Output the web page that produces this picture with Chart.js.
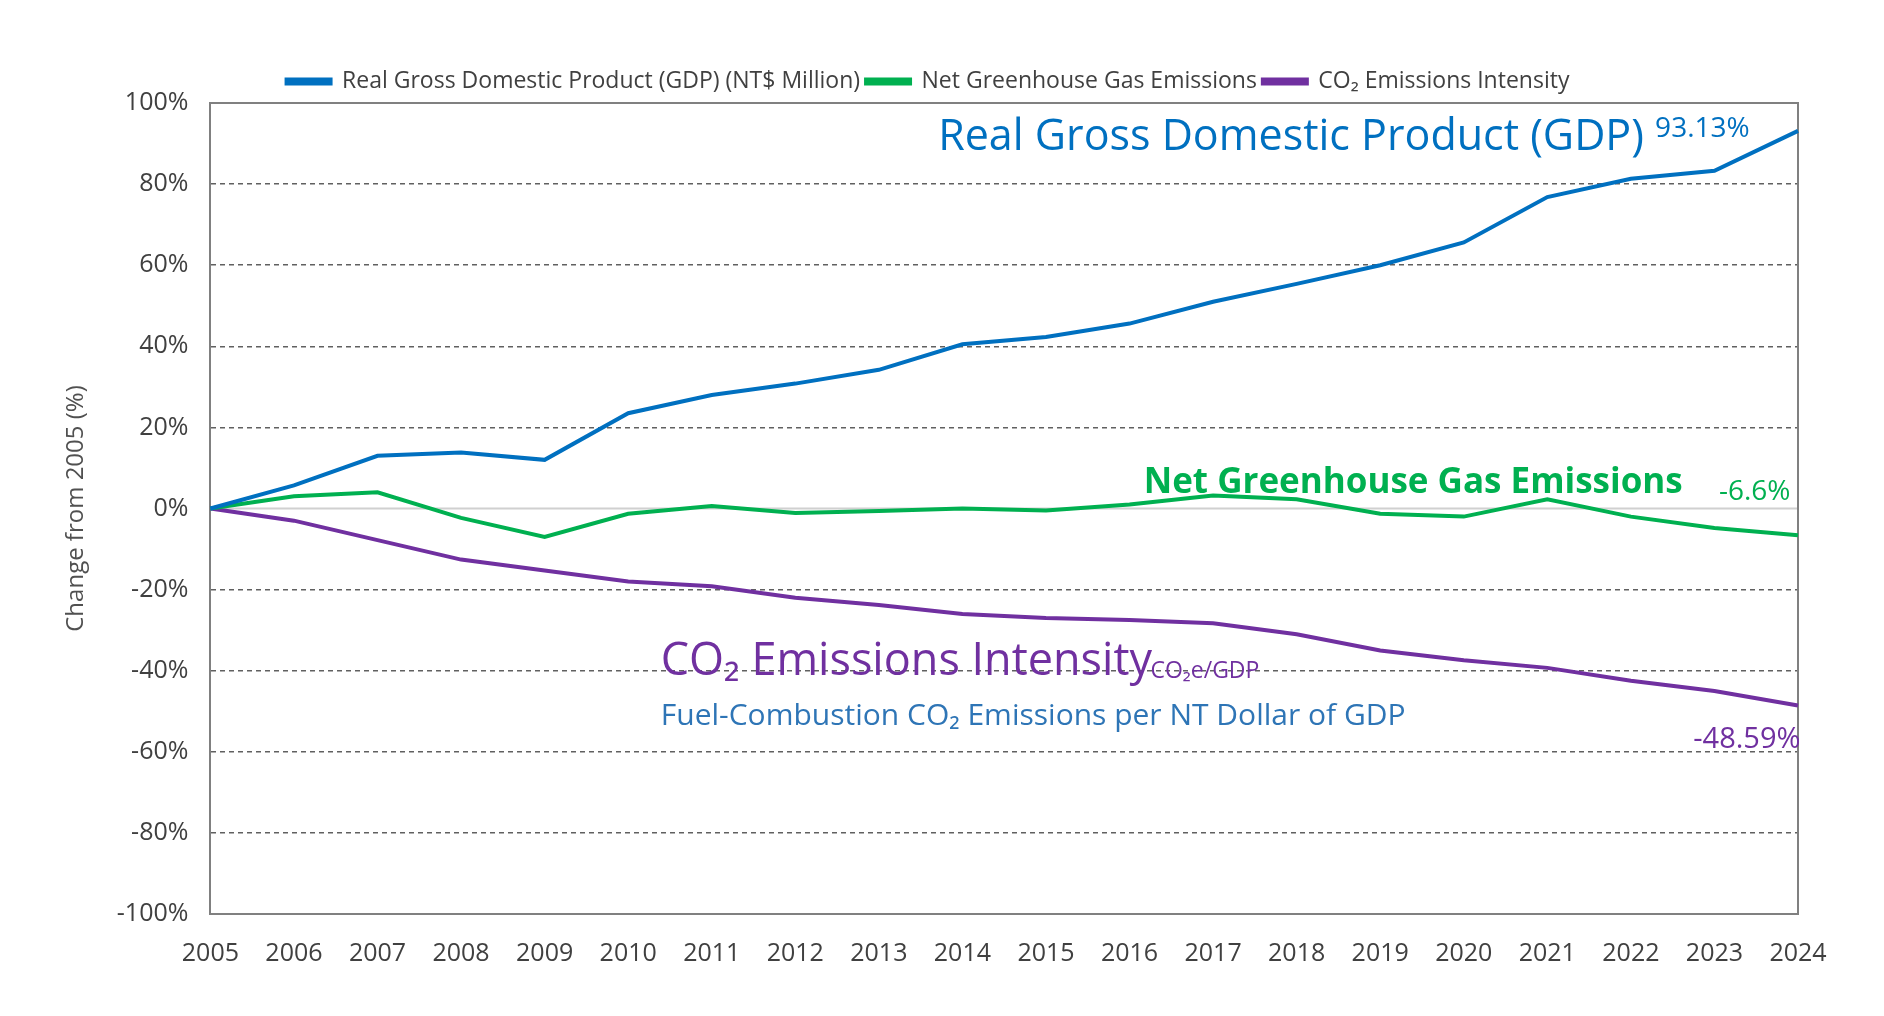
<!DOCTYPE html>
<html>
<head>
<meta charset="utf-8">
<script src="https://cdn.jsdelivr.net/npm/chart.js@4"></script>
<style>
  html, body { margin: 0; padding: 0; background: #fff; }
  #wrap { width: 1884px; height: 1016px; }
</style>
</head>
<body>
<div id="wrap"><canvas id="c" width="1884" height="1016"></canvas></div>
<script>
// DATA
var years = ['2005','2006','2007','2008','2009','2010','2011','2012','2013','2014','2015','2016','2017','2018','2019','2020','2021','2022','2023','2024'];
var gdp = [0, 5.7, 13, 13.8, 12, 23.5, 28, 30.8, 34.2, 40.5, 42.3, 45.6, 51, 55.4, 60, 65.6, 76.8, 81.3, 83.3, 93.13];
var ghg = [0, 3, 4, -2.3, -7, -1.3, 0.6, -1.1, -0.6, 0, -0.5, 1, 3.2, 2.3, -1.3, -2, 2.3, -2, -4.8, -6.6];
var co2 = [0, -3, -7.8, -12.6, -15.3, -18, -19.2, -22, -23.8, -26, -27, -27.5, -28.3, -31, -35, -37.4, -39.3, -42.5, -45, -48.59];

var BLUE = '#0070c0', GREEN = '#00b050', PURPLE = '#7030a0';
var FONT = '"Open Sans", "Noto Sans", sans-serif';

// annotation texts, placed in data units (category index, percent)
var notes = [
  { text: 'Real Gross Domestic Product (GDP)', x: 8.71, y: 91.5, size: 43, color: BLUE, align: 'left' },
  { text: '93.13%', x: 17.29, y: 93.6, size: 28, color: BLUE, align: 'left' },
  { text: 'Net Greenhouse Gas Emissions', x: 11.17, y: 6.4, size: 35, color: GREEN, align: 'left', bold: true },
  { text: '-6.6%', x: 18.91, y: 4.1, size: 28, color: GREEN, align: 'right' },
  { text: 'CO\u2082 Emissions Intensity', x: 5.39, y: -38.0, size: 45, color: PURPLE, align: 'left' },
  { text: 'CO\u2082e/GDP', x: 11.25, y: -40.3, size: 23, color: PURPLE, align: 'left' },
  { text: 'Fuel-Combustion CO\u2082 Emissions per NT Dollar of GDP', x: 5.39, y: -51.2, size: 30, color: '#2e75b6', align: 'left' },
  { text: '-48.59%', x: 19.03, y: -57.0, size: 29, color: PURPLE, align: 'right' }
];

var notePlugin = {
  id: 'notes',
  afterDatasetsDraw: function (chart) {
    var ctx = chart.ctx, xs = chart.scales.x, ys = chart.scales.y;
    ctx.save();
    notes.forEach(function (n) {
      ctx.font = (n.bold ? 'bold ' : '') + n.size + 'px ' + FONT;
      ctx.fillStyle = n.color;
      ctx.textAlign = n.align;
      ctx.textBaseline = 'middle';
      ctx.fillText(n.text, xs.getPixelForValue(n.x), ys.getPixelForValue(n.y));
    });
    ctx.restore();
  }
};

// solid zero line and plot frame
var gridPlugin = {
  id: 'zeroline',
  beforeDatasetsDraw: function (chart) {
    var ctx = chart.ctx, a = chart.chartArea, y0 = chart.scales.y.getPixelForValue(0);
    ctx.save();
    ctx.strokeStyle = '#d0d0d0';
    ctx.lineWidth = 2;
    ctx.beginPath(); ctx.moveTo(a.left, y0); ctx.lineTo(a.right, y0); ctx.stroke();
    ctx.strokeStyle = '#808080';
    ctx.beginPath(); ctx.moveTo(a.left, a.top); ctx.lineTo(a.right, a.top); ctx.lineTo(a.right, a.bottom); ctx.stroke();
    ctx.restore();
  }
};

function ds(label, data, color) {
  return { label: label, data: data, borderColor: color, backgroundColor: color, borderWidth: 4,
    pointRadius: 0, tension: 0, fill: false };
}

new Chart(document.getElementById('c').getContext('2d'), {
  type: 'line',
  data: {
    labels: years,
    datasets: [
      ds('Real Gross Domestic Product (GDP) (NT$ Million)', gdp, BLUE),
      ds('Net Greenhouse Gas Emissions', ghg, GREEN),
      ds('CO\u2082 Emissions Intensity', co2, PURPLE)
    ]
  },
  options: {
    responsive: false,
    animation: false,
    layout: { padding: { top: 64, right: 86, left: 58, bottom: 22 } },
    plugins: {
      tooltip: { enabled: false },
      legend: {
        position: 'top',
        labels: {
          color: '#404040', font: { family: FONT, size: 23 },
          boxWidth: 44, boxHeight: 4, padding: 6, usePointStyle: false
        }
      }
    },
    scales: {
      x: {
        offset: false,
        grid: { display: false, drawTicks: false },
        border: { color: '#808080', width: 2 },
        ticks: { color: '#404040', font: { family: FONT, size: 25 }, padding: 25, maxRotation: 0, autoSkip: false }
      },
      y: {
        min: -100, max: 100,
        grid: {
          color: function (c) { return c.tick.value === 0 ? 'rgba(0,0,0,0)' : '#606060'; },
          lineWidth: 1.5, drawTicks: false
        },
        border: { color: '#808080', width: 2, dash: [5, 4] },
        ticks: { stepSize: 20, color: '#404040', font: { family: FONT, size: 25 }, padding: 22,
          callback: function (v) { return v + '%'; } },
        title: { display: true, text: 'Change from 2005 (%)', color: '#505050', font: { family: FONT, size: 24 }, padding: 4 }
      }
    }
  },
  plugins: [gridPlugin, notePlugin]
});
</script>
</body>
</html>
